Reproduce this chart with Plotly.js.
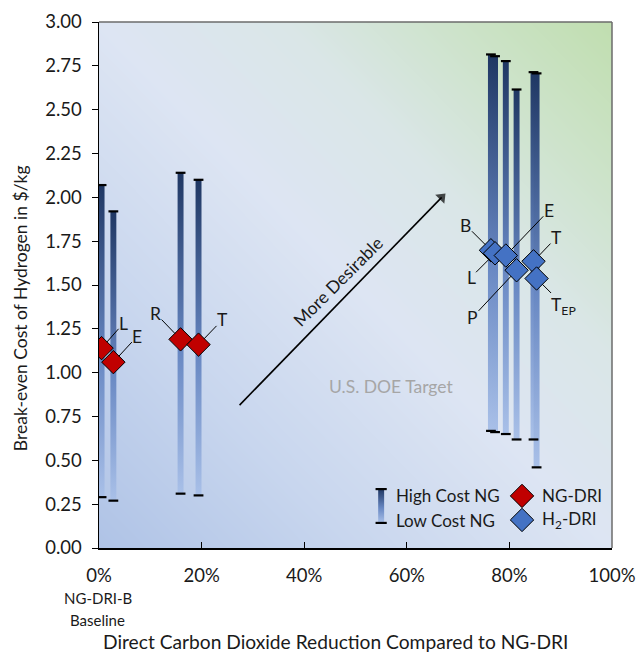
<!DOCTYPE html>
<html>
<head>
<meta charset="utf-8">
<script src="https://cdn.plot.ly/plotly-3.0.1.min.js"></script>
<style>html,body{margin:0;padding:0;background:#fff;}#chart{width:636px;height:654px;}</style>
</head>
<body>
<div id="chart"></div>
<script>
// ---- Data ----
const ngNames = ['L', 'E', 'R', 'T'];
const ngX = [0.005, 0.028, 0.159, 0.194];
const ngHigh = [2.07, 1.92, 2.14, 2.10];
const ngLow = [0.29, 0.27, 0.31, 0.30];
const ngCost = [1.14, 1.06, 1.19, 1.16];

const h2Names = ['B', 'L', 'E', 'P', 'T', 'T<sub>EP</sub>'];
const h2X = [0.764, 0.772, 0.793, 0.814, 0.847, 0.853];
const h2High = [2.815, 2.805, 2.777, 2.615, 2.714, 2.707];
const h2Low = [0.668, 0.661, 0.650, 0.619, 0.619, 0.460];
const h2Cost = [1.698, 1.681, 1.668, 1.584, 1.635, 1.537];

const xTickVals = [0, 0.2, 0.4, 0.6, 0.8, 1.0];
const xTickText = ['0%', '20%', '40%', '60%', '80%', '100%'];
const yTickVals = [0, 0.25, 0.5, 0.75, 1, 1.25, 1.5, 1.75, 2, 2.25, 2.5, 2.75, 3];
const doeTarget = 1.0;

// label offsets (pixels) for leader lines
const ngLabelOff = [[22, -25], [24, -26], [-25, -26], [24, -25]];
const h2LabelOff = [[-25, -25], [-24, 24], [43, -45], [-44, 47], [23, -24], [27, 27]];

const FONT = 'Lato, "Open Sans", sans-serif';
const TXT = '#1a1a1a';
const barHalf = 0.0058;
const barScale = [[0, '#a9c0e8'], [0.45, '#6787c2'], [1, '#1f3763']];

const traces = [];

// background gradient (heatmap)
const bgX = [], bgY = [], bgZ = [];
for (let i = 0; i <= 10; i++) bgX.push(-0.05 + i * 0.11);
for (let j = 0; j <= 10; j++) bgY.push(-0.15 + j * 0.33);
for (let j = 0; j < bgY.length; j++) {
  const row = [];
  for (let i = 0; i < bgX.length; i++) row.push((bgX[i] + bgY[j] / 3) / 2);
  bgZ.push(row);
}
traces.push({
  type: 'heatmap', x: bgX, y: bgY, z: bgZ, zsmooth: 'best', showscale: false, hoverinfo: 'skip',
  zmin: 0, zmax: 1,
  colorscale: [[0, '#afc3e6'], [0.25, '#c8d6ee'], [0.5, '#dde5f3'], [0.68, '#dae6e7'], [0.84, '#cde3ca'], [1, '#c0deaf']]
});

function addBar(x, lo, hi) {
  traces.push({
    type: 'scatter', mode: 'lines', x: [x - barHalf, x + barHalf, x + barHalf, x - barHalf, x - barHalf],
    y: [lo, lo, hi, hi, lo], fill: 'toself', line: {width: 0, color: 'rgba(0,0,0,0)'},
    fillgradient: {type: 'vertical', colorscale: barScale}, hoverinfo: 'skip', showlegend: false
  });
}
ngX.forEach((x, i) => addBar(x, ngLow[i], ngHigh[i]));
h2X.forEach((x, i) => addBar(x, h2Low[i], h2High[i]));

// caps
const capX = [].concat(ngX, ngX, h2X, h2X);
const capY = [].concat(ngHigh, ngLow, h2High, h2Low);
traces.push({
  type: 'scatter', mode: 'markers', x: capX, y: capY, hoverinfo: 'skip', showlegend: false,
  marker: {symbol: 'line-ew-open', size: 7, color: '#000', line: {width: 2.2, color: '#000'}}
});

// points
traces.push({
  type: 'scatter', mode: 'markers', x: ngX, y: ngCost, name: 'NG-DRI', showlegend: false,
  marker: {symbol: 'diamond', size: 18, color: '#c00000', line: {width: 1, color: '#000'}}
});
traces.push({
  type: 'scatter', mode: 'markers', x: h2X, y: h2Cost, name: 'H2-DRI', showlegend: false,
  marker: {symbol: 'diamond', size: 18, color: '#4472c4', line: {width: 1, color: '#000'}}
});

// ---- manual legend ----
const legIconX = 0.55, legTop = 0.336, legBot = 0.143;
addBar(legIconX, legBot, legTop);
traces.push({
  type: 'scatter', mode: 'markers', x: [legIconX, legIconX], y: [legTop, legBot], hoverinfo: 'skip', showlegend: false,
  marker: {symbol: 'line-ew-open', size: 8, color: '#000', line: {width: 2.2, color: '#000'}}
});
traces.push({
  type: 'scatter', mode: 'markers', x: [0.8246, 0.8246], y: [0.297, 0.16], hoverinfo: 'skip', showlegend: false,
  marker: {symbol: 'diamond', size: 18, color: ['#c00000', '#4472c4'], line: {width: 1, color: '#000'}}
});

// arrow "More Desirable" as a line trace with a triangular head marker
const arrowX = [0.274, 0.668], arrowY = [0.815, 2.0];
traces.push({
  type: 'scatter', mode: 'lines+markers', x: arrowX, y: arrowY, hoverinfo: 'skip', showlegend: false,
  line: {color: '#000', width: 1.6},
  marker: {symbol: ['circle', 'triangle-up'], size: [0, 11], angleref: 'previous', color: '#000', line: {width: 0}}
});

const annotations = [];
const lblFont = {family: FONT, size: 17.5, color: TXT};
ngNames.forEach((n, i) => annotations.push({
  x: ngX[i], y: ngCost[i], text: n, showarrow: true, arrowhead: 0, arrowwidth: 1, arrowcolor: '#000',
  ax: ngLabelOff[i][0], ay: ngLabelOff[i][1], standoff: 8, borderpad: 0, font: lblFont
}));
h2Names.forEach((n, i) => annotations.push({
  x: h2X[i], y: h2Cost[i], text: n, showarrow: true, arrowhead: 0, arrowwidth: 1, arrowcolor: '#000',
  ax: h2LabelOff[i][0], ay: h2LabelOff[i][1], standoff: 8, borderpad: 0, font: lblFont
}));
annotations.push({
  x: 0.466, y: 1.52, xanchor: 'center', yanchor: 'middle', text: 'More Desirable', showarrow: false, textangle: -45,
  font: {family: FONT, size: 17.5, color: TXT}
});
annotations.push({
  x: 0.569, y: 0.92, xanchor: 'center', yanchor: 'middle', text: 'U.S. DOE Target', showarrow: false,
  font: {family: FONT, size: 17.5, color: '#a6a6a6'}
});
// legend texts
const legFont = {family: FONT, size: 17, color: TXT};
annotations.push({xref: 'paper', yref: 'paper', x: 0.575, y: 0.0989, xanchor: 'left', yanchor: 'middle', text: 'High Cost NG', showarrow: false, font: legFont});
annotations.push({xref: 'paper', yref: 'paper', x: 0.575, y: 0.0532, xanchor: 'left', yanchor: 'middle', text: 'Low Cost NG', showarrow: false, font: legFont});
annotations.push({xref: 'paper', yref: 'paper', x: 0.8596, y: 0.0989, xanchor: 'left', yanchor: 'middle', text: 'NG-DRI', showarrow: false, font: legFont});
annotations.push({xref: 'paper', yref: 'paper', x: 0.8596, y: 0.0532, xanchor: 'left', yanchor: 'middle', text: 'H<sub>2</sub>-DRI', showarrow: false, font: legFont});
// baseline label
annotations.push({xref: 'paper', yref: 'paper', x: -0.002, y: -(598 - 548) / 526, xanchor: 'center', yanchor: 'middle', text: 'NG-DRI-B', showarrow: false, font: {family: FONT, size: 15, color: TXT}});
annotations.push({xref: 'paper', yref: 'paper', x: -0.002, y: -(620 - 548) / 526, xanchor: 'center', yanchor: 'middle', text: 'Baseline', showarrow: false, font: {family: FONT, size: 15, color: TXT}});
// axis titles
annotations.push({xref: 'paper', yref: 'paper', x: 0.4605, y: -(641 - 548) / 526, xanchor: 'center', yanchor: 'middle', text: 'Direct Carbon Dioxide Reduction Compared to NG-DRI', showarrow: false, font: {family: FONT, size: 19.2, color: TXT}});
annotations.push({xref: 'paper', yref: 'paper', x: -(99 - 20) / 513, y: 0.456, xanchor: 'center', yanchor: 'middle', text: 'Break-even Cost of Hydrogen in $/kg', textangle: -90, showarrow: false, font: {family: FONT, size: 17.5, color: TXT}});

const layout = {
  width: 636, height: 654,
  margin: {l: 99, r: 24, t: 22, b: 106},
  paper_bgcolor: '#ffffff', plot_bgcolor: '#dce4f2',
  showlegend: false,
  font: {family: FONT, size: 15, color: TXT},
  xaxis: {
    range: [0, 1], tickvals: xTickVals, ticktext: xTickText, ticks: 'inside', ticklen: 6, tickwidth: 1, tickcolor: '#000',
    showline: true, linecolor: '#000', linewidth: 1.5, showgrid: false, zeroline: false, fixedrange: true,
    tickfont: {family: FONT, size: 18.5, color: TXT}, ticklabelstandoff: 10
  },
  yaxis: {
    range: [0, 3], tickvals: yTickVals, tickformat: '.2f', ticks: 'outside', ticklen: 6, tickwidth: 1, tickcolor: '#000',
    showline: true, linecolor: '#000', linewidth: 1.5, showgrid: false, zeroline: false, fixedrange: true,
    tickfont: {family: FONT, size: 18.5, color: TXT}, ticklabelstandoff: 6
  },
  shapes: [
    {type: 'line', xref: 'paper', yref: 'y', x0: 0, x1: 1, y0: doeTarget, y1: doeTarget, line: {color: '#a6a6a6', width: 1.5}, layer: 'below'},
    {type: 'line', xref: 'paper', yref: 'paper', x0: 0, x1: 1, y0: 1, y1: 1, line: {color: '#6b6b6b', width: 1.5}},
    {type: 'line', xref: 'paper', yref: 'paper', x0: 1, x1: 1, y0: 0, y1: 1, line: {color: '#6b6b6b', width: 1.5}}
  ],
  annotations: annotations
};

Plotly.newPlot('chart', traces, layout, {displayModeBar: false, staticPlot: true});
</script>
</body>
</html>
